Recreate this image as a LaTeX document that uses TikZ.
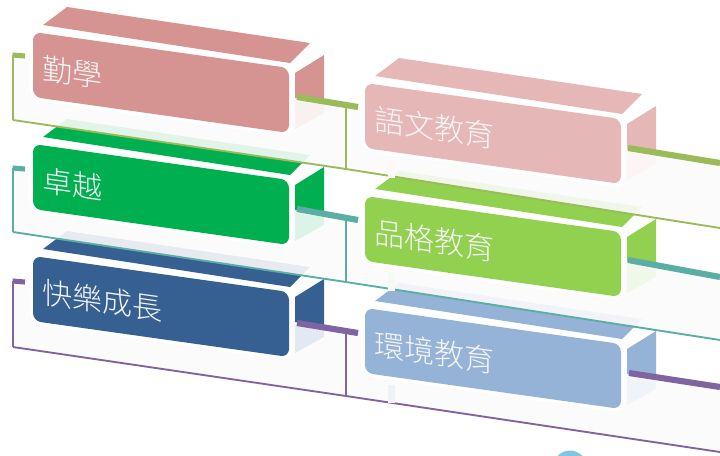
\documentclass[tikz,border=0pt]{standalone}
\usepackage{fontspec}
\newfontfamily\cjkfont{Noto Sans CJK TC Light}
\definecolor{cA}{HTML}{D59392}
\definecolor{cB}{HTML}{E5B8B7}
\definecolor{cC}{HTML}{00B050}
\definecolor{cD}{HTML}{92D050}
\definecolor{cE}{HTML}{366092}
\definecolor{cF}{HTML}{95B3D7}
\definecolor{lnA}{HTML}{9BBB59}
\definecolor{lnB}{HTML}{5AAEA4}
\definecolor{lnC}{HTML}{8064A2}
\definecolor{capc}{HTML}{7FC6E4}
\tikzset{
  thinln/.style={line width=1.4pt},
  vertln/.style={line width=1.1pt},
  barln/.style={line width=4.6pt},
  tickln/.style={line width=3.8pt},
  band/.style={fill=gray!3, fill opacity=0.9},
  lbl/.style={transform shape, anchor=west, inner sep=0pt, text=white!96!black,
    font=\cjkfont\fontsize{22.5pt}{26pt}\selectfont},
}
\newcommand{\cubebox}[5]{%
  \begin{scope}[shift={(#1,#2)}]
    \fill[#3] (10,-7) -- (34,-25) -- (277,11) -- (257,31) -- cycle;
    \fill[#3] (262,41) -- (291,23) -- (291,70) -- (262,66) -- cycle;
    \fill[#3!14!white] (262,69) -- (291,73) -- (291,81) -- (262,97) -- cycle;
    \draw[white, line width=5pt, rounded corners=6pt] (0,0) -- (256,36) -- (256,101) -- (0,65) -- cycle;
    \fill[#3, rounded corners=6pt] (0,0) -- (256,36) -- (256,101) -- (0,65) -- cycle;
    \begin{scope}[shift={(9,36)}, yslant=-0.14]
      \node[lbl] (#5) at (0,0) {#4};
    \end{scope}
  \end{scope}}
\newcommand{\legstrip}[3]{%
  \fill[#3!8!white] (#1+23,#2+77) rectangle (#1+30,#2+95);}
\begin{document}
\begin{tikzpicture}[x=0.75pt,y=-0.75pt]
\fill[white] (0,0) rectangle (720,455);
\useasboundingbox (0,0) rectangle (720,455);
\clip (0,0) rectangle (720,455);
% bottom cap
\fill[capc] (570,467) circle (16.5);
% ================= row 3 =================
\coordinate (r3a) at (13,347); \coordinate (r3b) at (346,396); \coordinate (r3c) at (720,452);
\fill[band] (13,279) -- (r3a) -- (r3b) -- (r3c) -- (720,384) -- (346,328) -- cycle;
\draw[lnC, thinln] (r3a) -- (r3b) -- (r3c);
\draw[lnC, vertln] (13,281) -- (r3a);
\draw[lnC, tickln] (12.5,281) -- (25,282);
\draw[lnC, vertln] (346,331) -- (r3b);
\legstrip{365}{308}{cE}
\cubebox{33}{256}{cE}{快樂成長}{t5}
\cubebox{365}{308}{cF}{環境教育}{t6}
\draw[lnC, barln] (297,323) -- (358,333);
\draw[lnC, barln] (629,373) -- (720,387);
% ================= row 2 =================
\coordinate (r2a) at (13,232); \coordinate (r2b) at (346,282); \coordinate (r2c) at (720,340);
\fill[band] (13,165) -- (r2a) -- (r2b) -- (r2c) -- (720,272) -- (346,214) -- cycle;
\draw[lnB, thinln] (r2a) -- (r2b) -- (r2c);
\draw[lnB, vertln] (13,168) -- (r2a);
\draw[lnB, tickln] (12.5,168) -- (25,169);
\draw[lnB, vertln] (346,218) -- (r2b);
\legstrip{365}{196}{cD}
\cubebox{33}{144}{cC}{卓越}{t3}
\cubebox{365}{196}{cD}{品格教育}{t4}
\draw[lnB, barln] (297,209) -- (358,220);
\draw[lnB, barln] (628,260) -- (720,277);
% ================= row 1 =================
\coordinate (r1a) at (13,120); \coordinate (r1b) at (346,169); \coordinate (r1c) at (720,228);
\fill[band] (13,52) -- (r1a) -- (r1b) -- (r1c) -- (720,160) -- (346,101) -- cycle;
\draw[lnA, thinln] (r1a) -- (r1b) -- (r1c);
\draw[lnA, vertln] (13,55) -- (r1a);
\draw[lnA, tickln] (12.5,55) -- (25,56);
\draw[lnA, vertln] (346,105) -- (r1b);
\legstrip{365}{83}{cB}
\cubebox{33}{32}{cA}{勤學}{t1}
\cubebox{365}{83}{cB}{語文教育}{t2}
\draw[lnA, barln] (297,97) -- (358,107);
\draw[lnA, barln] (628,148) -- (720,163);
\end{tikzpicture}
\end{document}
